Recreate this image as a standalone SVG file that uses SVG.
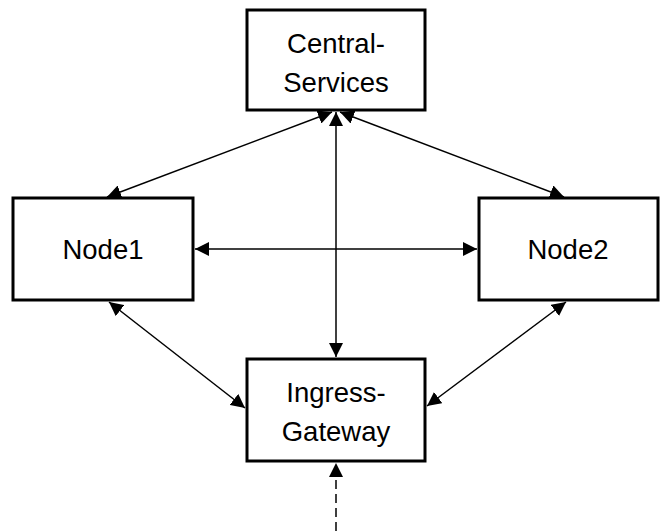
<svg xmlns="http://www.w3.org/2000/svg" width="662" height="531" viewBox="0 0 662 531">
<style>
.box{fill:#fff;stroke:#000;stroke-width:3}
.lbl{font-family:"Liberation Sans",Arial,sans-serif;font-size:27.5px;fill:#000;text-anchor:middle}
.c{stroke:#000;stroke-width:1.5;fill:none}
.d{stroke-dasharray:9 5}
</style>
<defs>
<marker id="ah" markerUnits="userSpaceOnUse" markerWidth="14" markerHeight="14" viewBox="0 0 14 14" refX="14" refY="7" orient="auto-start-reverse">
<path d="M0,0 L14,7 L0,14 Z" fill="#000"/>
</marker>
</defs>
<rect width="662" height="531" fill="#fff"/>
<g id="connectors">
<line class="c" x1="336" y1="112" x2="336" y2="357" marker-start="url(#ah)" marker-end="url(#ah)"/>
<line class="c" x1="195" y1="249" x2="477" y2="249" marker-start="url(#ah)" marker-end="url(#ah)"/>
<line class="c" x1="332" y1="112" x2="107" y2="197" marker-start="url(#ah)" marker-end="url(#ah)"/>
<line class="c" x1="340" y1="112" x2="564" y2="197" marker-start="url(#ah)" marker-end="url(#ah)"/>
<line class="c" x1="109" y1="302" x2="245" y2="408" marker-start="url(#ah)" marker-end="url(#ah)"/>
<line class="c" x1="566" y1="302" x2="427" y2="406" marker-start="url(#ah)" marker-end="url(#ah)"/>
<line class="c d" x1="336" y1="531" x2="336" y2="463" marker-end="url(#ah)"/>
</g>
<g id="central">
<rect class="box" x="247" y="10" width="178" height="100"/>
<text class="lbl" x="336" y="53">Central-</text>
<text class="lbl" x="336" y="92">Services</text>
</g>
<g id="node1">
<rect class="box" x="13" y="198" width="180" height="102"/>
<text class="lbl" x="103" y="259">Node1</text>
</g>
<g id="node2">
<rect class="box" x="479" y="198" width="179" height="102"/>
<text class="lbl" x="568" y="259">Node2</text>
</g>
<g id="ingress">
<rect class="box" x="247" y="359" width="178" height="102"/>
<text class="lbl" x="336" y="402">Ingress-</text>
<text class="lbl" x="336" y="441">Gateway</text>
</g>
</svg>
